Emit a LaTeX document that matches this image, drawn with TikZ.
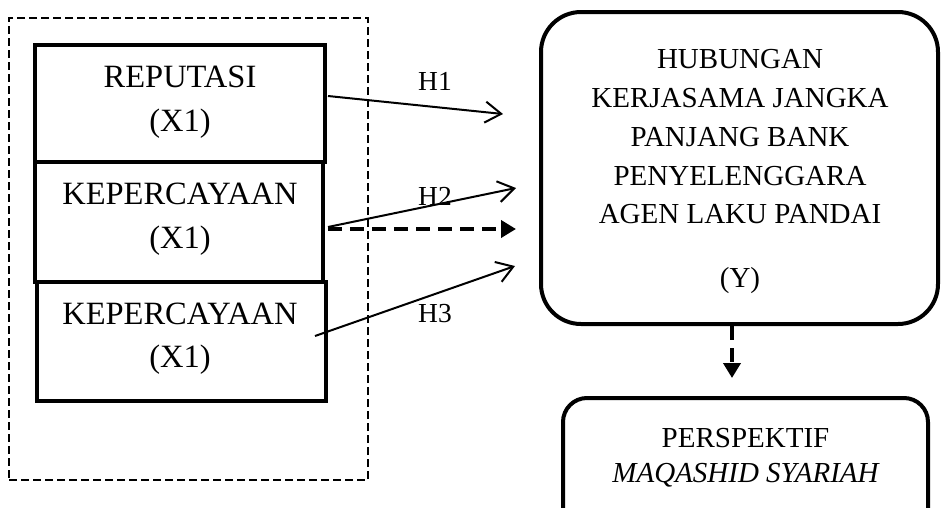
\documentclass[tikz,border=0pt]{standalone}
\usepackage{fontspec}
\setmainfont{Liberation Serif}
\usetikzlibrary{arrows.meta,calc}
\begin{document}
\begin{tikzpicture}[x=1pt,y=-1pt,
  varbox/.style={draw, line width=4pt, inner sep=0pt, minimum width=#1},
  grp/.style={draw, line width=2pt, dash pattern=on 8pt off 4pt, inner sep=0pt},
  rbox/.style={draw, line width=4pt, inner sep=0pt, rounded corners=#1},
  lefttext/.style={anchor=base, inner sep=0pt, font=\fontsize{32.5}{40}\selectfont},
  righttext/.style={anchor=base, inner sep=0pt, font=\fontsize{29}{38}\selectfont},
  hlabel/.style={anchor=base, inner sep=0pt, font=\fontsize{27.5}{34}\selectfont},
  harrow/.style={line width=2pt, -{Straight Barb[length=16pt,width=21pt]}},
  darrow/.style={line width=4pt, dash pattern=on 14pt off 8pt, -{Triangle[length=15pt,width=17pt]}}
]
\useasboundingbox (0,0) rectangle (946,507);
\clip (0,0) rectangle (946,507);
\fill[white] (0,0) rectangle (946,507);

% group frame
\node[grp, minimum width=359pt, minimum height=462pt] (grp) at (188.5,249) {};

% left boxes
\node[varbox=290pt, minimum height=117pt] (b1) at (180,103.5) {};
\node[varbox=288pt, minimum height=120pt] (b2) at (179,222) {};
\node[varbox=289pt, minimum height=119pt] (b3) at (181.5,341.5) {};

\node[lefttext] (t1a) at (180,87) {REPUTASI};
\node[lefttext] (t1b) at (180,131) {(X1)};
\node[lefttext] (t2a) at (180,204) {KEPERCAYAAN};
\node[lefttext] (t2b) at (180,248) {(X1)};
\node[lefttext] (t3a) at (180,324) {KEPERCAYAAN};
\node[lefttext] (t3b) at (180,367) {(X1)};

% right big box
\node[rbox=40pt, minimum width=397pt, minimum height=312pt] (big) at (739.5,168) {};
\node[righttext] (y1) at (740,68) {HUBUNGAN};
\node[righttext] (y2) at (740,107) {KERJASAMA JANGKA};
\node[righttext] (y3) at (740,146) {PANJANG BANK};
\node[righttext] (y4) at (740,185) {PENYELENGGARA};
\node[righttext] (y5) at (740,223) {AGEN LAKU PANDAI};
\node[righttext] (y6) at (740,287) {(Y)};

% bottom box
\node[rbox=24pt, minimum width=365pt, minimum height=142pt] (bot) at (745.5,469) {};
\node[righttext] (p1) at (745.5,447) {PERSPEKTIF};
\node[righttext] (p2) at (745.5,482) {\itshape MAQASHID SYARIAH};

% arrow ends
\coordinate (h1e) at (503,114);
\coordinate (h2e) at (516,188);
\coordinate (dde) at (516,229);
\coordinate (h3e) at (515,266);
\coordinate (vde) at (732,378);

\draw[harrow] ($(b1.east)+(1,-7.5)$) -- (h1e);
\draw[harrow] ($(b2.east)+(3,5)$) -- (h2e);
\draw[darrow] ($(b2.east)+(3,7)$) -- (dde);
\draw[harrow] ($(b3.east)+(-13,-5.5)$) -- (h3e);
\draw[darrow] ($(big.south)+(-7.5,0)$) -- (vde);

% labels
\node[hlabel] (l1) at (435,90) {H1};
\node[hlabel] (l2) at (435,205) {H2};
\node[hlabel] (l3) at (435,322) {H3};
\end{tikzpicture}
\end{document}
